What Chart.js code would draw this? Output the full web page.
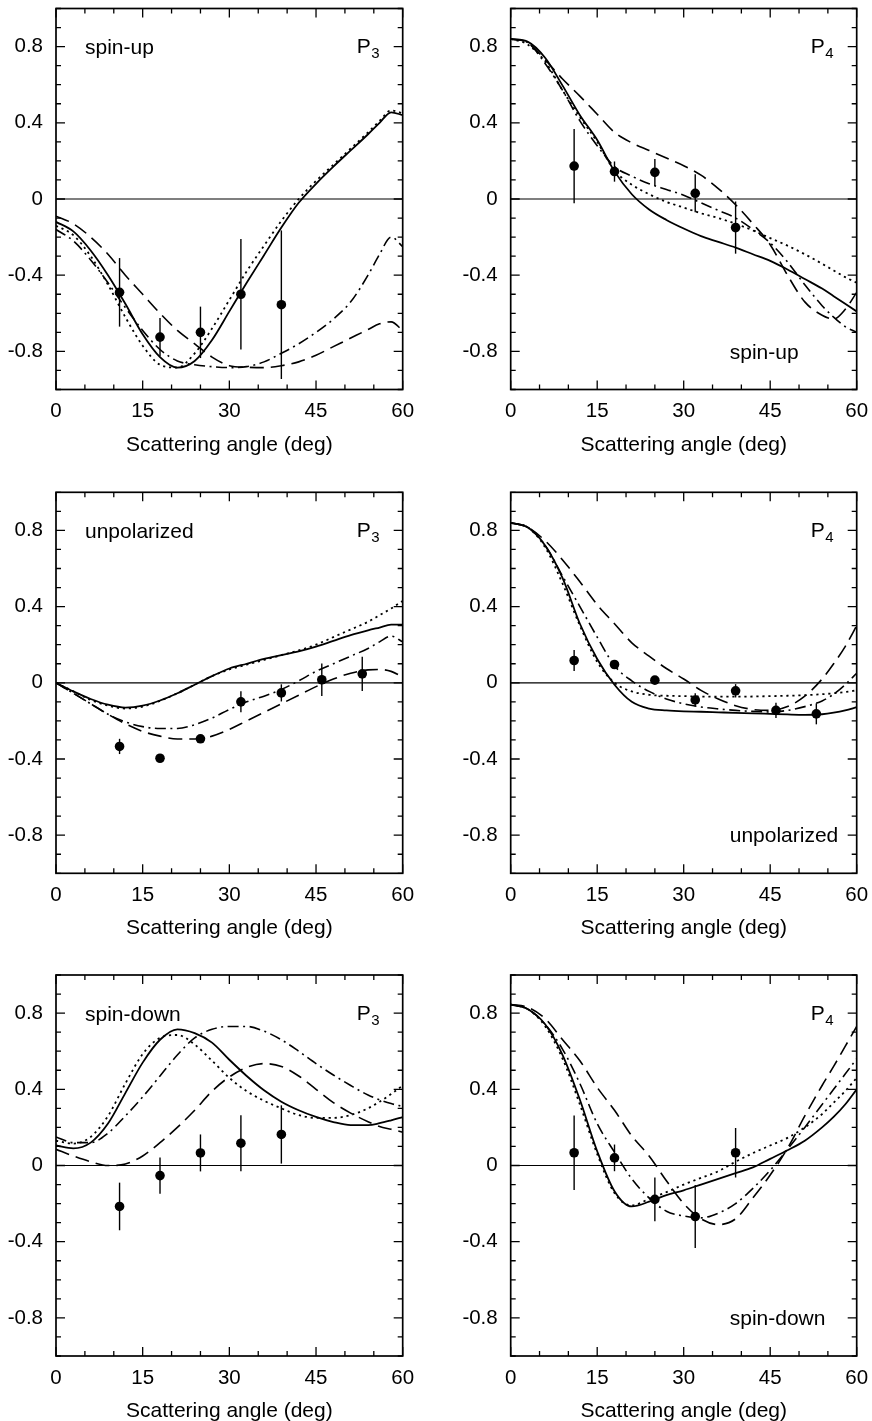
<!DOCTYPE html>
<html>
<head>
<meta charset="utf-8">
<script src="https://cdn.jsdelivr.net/npm/chart.js@4.4.1/dist/chart.umd.min.js"></script>
<style>
  html, body { margin: 0; padding: 0; background: #fff; overflow: hidden; }
  #page { position: relative; width: 872px; height: 1421px; }
  canvas { position: absolute; }
</style>
</head>
<body>
<div id="page">
  <canvas id="chart-up-p3" width="436" height="483" style="left:0;top:0"></canvas>
  <canvas id="chart-up-p4" width="436" height="483" style="left:436px;top:0"></canvas>
  <canvas id="chart-unp-p3" width="436" height="483" style="left:0;top:484px"></canvas>
  <canvas id="chart-unp-p4" width="436" height="483" style="left:436px;top:484px"></canvas>
  <canvas id="chart-down-p3" width="436" height="483" style="left:0;top:966px"></canvas>
  <canvas id="chart-down-p4" width="436" height="483" style="left:436px;top:966px"></canvas>
</div>
<script>
// Scattering angle grid of the calculated curves and of the measured points
let angle = [0, 3, 6, 9, 12, 15, 18, 21, 24, 27, 30, 33, 36, 39, 42, 45, 48, 51, 54, 56, 58, 60]
let expAngle = [11, 18, 25, 32, 39, 46, 53]
let angleTicks = [0, 15, 30, 45, 60]
let yTicks = [-0.8, -0.4, 0, 0.4, 0.8]

// spin-up, P3
let upP3Solid   = [-0.12, -0.17, -0.27, -0.40, -0.55, -0.71, -0.83, -0.885, -0.85, -0.74, -0.59, -0.44, -0.295, -0.15, -0.02, 0.08, 0.17, 0.255, 0.34, 0.40, 0.455, 0.44]
let upP3Dotted  = [-0.14, -0.19, -0.30, -0.45, -0.62, -0.77, -0.87, -0.885, -0.81, -0.68, -0.53, -0.38, -0.245, -0.115, 0.0, 0.095, 0.18, 0.265, 0.35, 0.41, 0.465, 0.45]
let upP3Dashed  = [-0.09, -0.13, -0.20, -0.29, -0.40, -0.50, -0.60, -0.69, -0.76, -0.83, -0.875, -0.883, -0.885, -0.875, -0.855, -0.82, -0.775, -0.73, -0.685, -0.655, -0.645, -0.69]
let upP3DashDot = [-0.16, -0.22, -0.32, -0.44, -0.57, -0.69, -0.79, -0.85, -0.87, -0.88, -0.885, -0.88, -0.855, -0.81, -0.76, -0.70, -0.63, -0.54, -0.40, -0.29, -0.20, -0.25]
let upP3Exp = [-0.49, -0.725, -0.70, -0.50, -0.555]
let upP3Err = [0.18, 0.10, 0.135, 0.29, 0.39]

// spin-up, P4
let upP4Solid   = [0.84, 0.825, 0.74, 0.595, 0.44, 0.31, 0.145, 0.025, -0.055, -0.11, -0.155, -0.195, -0.225, -0.255, -0.29, -0.325, -0.37, -0.42, -0.47, -0.51, -0.55, -0.59]
let upP4Dotted  = [0.84, 0.81, 0.72, 0.57, 0.43, 0.30, 0.15, 0.075, 0.025, -0.015, -0.045, -0.075, -0.10, -0.13, -0.165, -0.205, -0.245, -0.29, -0.34, -0.375, -0.41, -0.44]
let upP4Dashed  = [0.84, 0.82, 0.73, 0.63, 0.54, 0.445, 0.35, 0.295, 0.255, 0.215, 0.175, 0.125, 0.055, -0.03, -0.13, -0.24, -0.40, -0.54, -0.61, -0.63, -0.58, -0.49]
let upP4DashDot = [0.84, 0.82, 0.71, 0.57, 0.41, 0.28, 0.17, 0.12, 0.08, 0.05, 0.02, -0.02, -0.06, -0.10, -0.16, -0.23, -0.33, -0.45, -0.56, -0.62, -0.67, -0.70]
let upP4Exp = [0.173, 0.144, 0.14, 0.03, -0.15]
let upP4Err = [0.195, 0.053, 0.07, 0.10, 0.137]

// unpolarized, P3
let unpP3Solid   = [0, -0.045, -0.085, -0.115, -0.13, -0.12, -0.093, -0.055, -0.01, 0.035, 0.075, 0.10, 0.125, 0.145, 0.165, 0.19, 0.22, 0.25, 0.275, 0.29, 0.305, 0.305]
let unpP3Dotted  = [0, -0.045, -0.09, -0.12, -0.135, -0.125, -0.095, -0.055, -0.01, 0.035, 0.07, 0.095, 0.12, 0.145, 0.17, 0.20, 0.24, 0.28, 0.32, 0.355, 0.39, 0.43]
let unpP3Dashed  = [0, -0.055, -0.11, -0.165, -0.215, -0.255, -0.28, -0.295, -0.295, -0.28, -0.245, -0.20, -0.155, -0.11, -0.065, -0.02, 0.02, 0.05, 0.068, 0.07, 0.06, 0.03]
let unpP3DashDot = [0, -0.055, -0.11, -0.165, -0.205, -0.23, -0.24, -0.24, -0.22, -0.185, -0.14, -0.10, -0.07, -0.035, 0.01, 0.06, 0.10, 0.14, 0.18, 0.215, 0.245, 0.215]
let unpP3Exp = [-0.334, -0.396, -0.294, -0.10, -0.053, 0.016, 0.047]
let unpP3Err = [0.04, 0.015, 0.02, 0.055, 0.045, 0.085, 0.09]

// unpolarized, P4
let unpP4Solid   = [0.84, 0.815, 0.72, 0.55, 0.31, 0.125, -0.01, -0.10, -0.135, -0.145, -0.15, -0.152, -0.155, -0.158, -0.16, -0.163, -0.166, -0.168, -0.165, -0.157, -0.145, -0.128]
let unpP4Dotted  = [0.84, 0.815, 0.71, 0.52, 0.30, 0.11, 0.0, -0.045, -0.063, -0.068, -0.07, -0.072, -0.073, -0.073, -0.072, -0.07, -0.068, -0.065, -0.06, -0.055, -0.048, -0.04]
let unpP4Dashed  = [0.84, 0.815, 0.745, 0.645, 0.53, 0.41, 0.31, 0.21, 0.14, 0.075, 0.02, -0.04, -0.085, -0.12, -0.14, -0.145, -0.125, -0.07, 0.02, 0.10, 0.19, 0.30]
let unpP4DashDot = [0.84, 0.815, 0.72, 0.56, 0.40, 0.24, 0.09, 0.01, -0.045, -0.085, -0.11, -0.127, -0.137, -0.145, -0.15, -0.153, -0.145, -0.125, -0.095, -0.06, -0.01, 0.05]
let unpP4Exp = [0.117, 0.096, 0.014, -0.09, -0.042, -0.145, -0.163]
let unpP4Err = [0.055, 0.015, 0.012, 0.035, 0.035, 0.04, 0.055]

// spin-down, P3
let downP3Solid   = [0.105, 0.09, 0.12, 0.22, 0.38, 0.54, 0.66, 0.715, 0.695, 0.645, 0.555, 0.47, 0.395, 0.335, 0.29, 0.255, 0.228, 0.212, 0.212, 0.222, 0.237, 0.254]
let downP3Dotted  = [0.13, 0.115, 0.15, 0.26, 0.43, 0.585, 0.67, 0.685, 0.635, 0.55, 0.46, 0.39, 0.34, 0.30, 0.265, 0.25, 0.25, 0.265, 0.30, 0.335, 0.375, 0.42]
let downP3Dashed  = [0.085, 0.05, 0.02, 0.0, 0.008, 0.05, 0.12, 0.20, 0.29, 0.39, 0.465, 0.515, 0.535, 0.52, 0.47, 0.40, 0.33, 0.275, 0.23, 0.205, 0.19, 0.175]
let downP3DashDot = [0.15, 0.12, 0.12, 0.17, 0.26, 0.36, 0.47, 0.58, 0.67, 0.715, 0.73, 0.73, 0.705, 0.66, 0.60, 0.535, 0.475, 0.42, 0.37, 0.345, 0.325, 0.31]
let downP3Exp = [-0.215, -0.053, 0.066, 0.117, 0.163]
let downP3Err = [0.125, 0.095, 0.097, 0.147, 0.153]

// spin-down, P4
let downP4Solid   = [0.845, 0.82, 0.74, 0.58, 0.345, 0.075, -0.135, -0.215, -0.19, -0.155, -0.13, -0.10, -0.07, -0.04, -0.01, 0.035, 0.08, 0.13, 0.20, 0.255, 0.32, 0.40]
let downP4Dotted  = [0.845, 0.82, 0.73, 0.56, 0.32, 0.06, -0.145, -0.21, -0.175, -0.14, -0.10, -0.065, -0.03, 0.02, 0.065, 0.105, 0.145, 0.20, 0.27, 0.33, 0.39, 0.46]
let downP4Dashed  = [0.845, 0.83, 0.77, 0.66, 0.55, 0.41, 0.29, 0.155, 0.05, -0.08, -0.20, -0.28, -0.31, -0.28, -0.17, -0.05, 0.09, 0.26, 0.42, 0.52, 0.625, 0.73]
let downP4DashDot = [0.845, 0.82, 0.74, 0.61, 0.43, 0.22, 0.07, -0.07, -0.17, -0.24, -0.265, -0.275, -0.25, -0.20, -0.12, -0.025, 0.085, 0.20, 0.32, 0.40, 0.48, 0.56]
let downP4Exp = [0.067, 0.04, -0.178, -0.268, 0.067]
let downP4Err = [0.195, 0.07, 0.115, 0.165, 0.13]

Chart.defaults.font.family = '"Liberation Sans", Arial, Helvetica, sans-serif'
Chart.defaults.font.size = 20
Chart.defaults.color = '#000'

// zero line, error bars, frame with inner ticks, panel labels
let panelDecor = {
	id: 'panelDecor',
	beforeDatasetsDraw(chart) {
		let {ctx, chartArea: a, scales: {x, y}} = chart
		ctx.save()
		ctx.strokeStyle = '#000'
		ctx.lineWidth = 1.2
		let y0 = y.getPixelForValue(0)
		ctx.beginPath()
		ctx.moveTo(a.left, y0)
		ctx.lineTo(a.right, y0)
		ctx.stroke()

		// error bars of measured points
		chart.data.datasets.forEach(ds => {
			if (!ds.errors) return
			ctx.lineWidth = 1.4
			ds.data.forEach((p, i) => {
				let px = x.getPixelForValue(p.x)
				ctx.beginPath()
				ctx.moveTo(px, y.getPixelForValue(p.y - ds.errors[i]))
				ctx.lineTo(px, y.getPixelForValue(p.y + ds.errors[i]))
				ctx.stroke()
			})
		})
		ctx.restore()
	},
	afterDraw(chart, args, opts) {
		let {ctx, chartArea: a, scales: {x, y}} = chart
		ctx.save()
		ctx.strokeStyle = '#000'
		ctx.lineWidth = 1.7
		ctx.strokeRect(a.left, a.top, a.right - a.left, a.bottom - a.top)

		ctx.lineWidth = 1.3
		ctx.beginPath()
		for (let d = 0; d <= 60; d += 5) {
			let px = x.getPixelForValue(d)
			let len = d % 15 === 0 ? 9 : 5
			ctx.moveTo(px, a.bottom); ctx.lineTo(px, a.bottom - len)
			ctx.moveTo(px, a.top); ctx.lineTo(px, a.top + len)
		}
		for (let i = -10; i <= 10; i++) {
			let py = y.getPixelForValue(i / 10)
			let len = i % 4 === 0 ? 9 : 5
			ctx.moveTo(a.left, py); ctx.lineTo(a.left + len, py)
			ctx.moveTo(a.right, py); ctx.lineTo(a.right - len, py)
		}
		ctx.stroke()

		// panel labels
		ctx.fillStyle = '#000'
		ctx.textBaseline = 'alphabetic'
		ctx.font = '21px "Liberation Sans", Arial, sans-serif'
		ctx.textAlign = 'left'
		if (opts.labelAt === 'top') {
			ctx.fillText(opts.label, a.left + 29, a.top + 45.5)
		} else {
			ctx.fillText(opts.label, a.left + 219, a.bottom - 31)
		}
		let pX = a.right - 46
		ctx.fillText('P', pX, a.top + 44.5)
		let pW = ctx.measureText('P').width
		ctx.font = '15px "Liberation Sans", Arial, sans-serif'
		ctx.fillText(opts.sub, pX + pW + 0.5, a.top + 49.5)
		ctx.restore()
	}
}

let curve = (values, dash, width) => ({
	data: angle.map((t, i) => ({x: t, y: values[i]})),
	showLine: true,
	borderColor: '#000',
	borderWidth: width,
	borderDash: dash,
	pointRadius: 0,
	cubicInterpolationMode: 'monotone',
	fill: false,
})

let buildChart = (element, col, row, label, labelAt, sub, series) => {

	let $canvas = document.getElementById(element)
	let padTop = [8.5, 8.3, 9.0][row]
	let axisWidth = col === 0 ? 56 : 74.7

	let chart = new Chart($canvas, {
		type: 'scatter',
		data: {
			datasets: [
				curve(series[0], [], 1.8),
				curve(series[1], [2.2, 3.8], 1.8),
				curve(series[2], [14, 7], 1.6),
				curve(series[3], [11, 4.5, 2, 4.5], 1.6),
				{
					data: series[4].map((v, i) => ({x: expAngle[i], y: v})),
					errors: series[5],
					pointRadius: 4.8,
					pointBackgroundColor: '#000',
					pointBorderWidth: 0,
					showLine: false,
				}
			]
		},
		options: {
			responsive: false,
			animation: false,
			events: [],
			layout: {
				padding: {top: padTop, left: 0, right: col === 0 ? 33.3 : 15.3, bottom: 483 - padTop - 381 - 68}
			},
			scales: {
				x: {
					type: 'linear', min: 0, max: 60,
					afterBuildTicks: s => { s.ticks = angleTicks.map(v => ({value: v})) },
					ticks: {padding: 10, color: '#000', font: {size: 20.5}},
					grid: {display: false, drawTicks: false},
					border: {display: false},
					title: {display: true, text: 'Scattering angle (deg)', color: '#000', font: {size: 21}, padding: {top: 0, bottom: 0}},
					afterFit: s => { s.height = 68; s.paddingLeft = 0; s.paddingRight = 0 }
				},
				y: {
					type: 'linear', min: -1, max: 1,
					afterBuildTicks: s => { s.ticks = yTicks.map(v => ({value: v})) },
					ticks: {padding: 13, color: '#000', font: {size: 20.5}, callback: v => v === 0 ? '0' : v.toFixed(1)},
					grid: {display: false, drawTicks: false},
					border: {display: false},
					afterFit: s => { s.width = axisWidth; s.paddingTop = 0; s.paddingBottom = 0 }
				}
			},
			plugins: {
				legend: {display: false},
				tooltip: {enabled: false},
				panelDecor: {label, labelAt, sub}
			}
		},
		plugins: [panelDecor]
	})
	return chart
}

var upP3Chart   = buildChart('chart-up-p3', 0, 0, 'spin-up', 'top', '3', [upP3Solid, upP3Dotted, upP3Dashed, upP3DashDot, upP3Exp, upP3Err])
var upP4Chart   = buildChart('chart-up-p4', 1, 0, 'spin-up', 'bottom', '4', [upP4Solid, upP4Dotted, upP4Dashed, upP4DashDot, upP4Exp, upP4Err])
var unpP3Chart  = buildChart('chart-unp-p3', 0, 1, 'unpolarized', 'top', '3', [unpP3Solid, unpP3Dotted, unpP3Dashed, unpP3DashDot, unpP3Exp, unpP3Err])
var unpP4Chart  = buildChart('chart-unp-p4', 1, 1, 'unpolarized', 'bottom', '4', [unpP4Solid, unpP4Dotted, unpP4Dashed, unpP4DashDot, unpP4Exp, unpP4Err])
var downP3Chart = buildChart('chart-down-p3', 0, 2, 'spin-down', 'top', '3', [downP3Solid, downP3Dotted, downP3Dashed, downP3DashDot, downP3Exp, downP3Err])
var downP4Chart = buildChart('chart-down-p4', 1, 2, 'spin-down', 'bottom', '4', [downP4Solid, downP4Dotted, downP4Dashed, downP4DashDot, downP4Exp, downP4Err])
</script>
</body>
</html>
